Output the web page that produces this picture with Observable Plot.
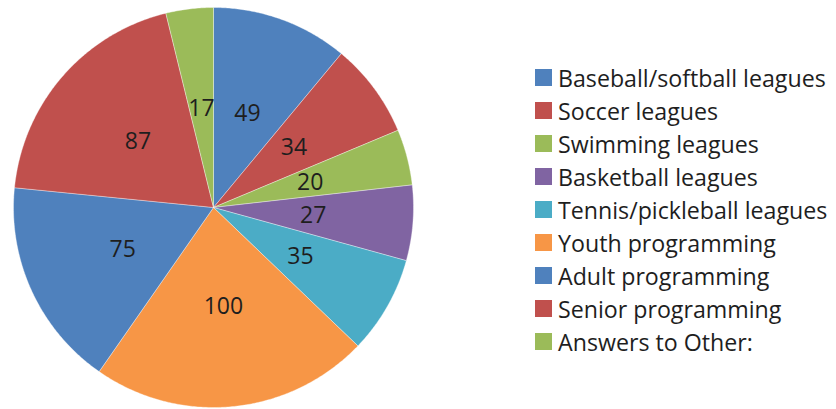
<!DOCTYPE html>
<html>
<head>
<meta charset="utf-8">
<script src="https://cdn.jsdelivr.net/npm/d3@7"></script>
<script src="https://cdn.jsdelivr.net/npm/@observablehq/plot@0.6"></script>
<style>
  html, body { margin: 0; padding: 0; background: #fff; }
  #wrap { position: relative; width: 836px; height: 409px; overflow: hidden; }
  #legend { position: absolute; left: 535px; top: 61px; font-family: "Open Sans", Lato, sans-serif; font-size: 23.2px; color: #1e1e1e; }
  .item { display: flex; align-items: center; height: 33px; white-space: nowrap; }
  .sw { width: 17px; height: 17px; margin-right: 6px; flex: none; }
</style>
</head>
<body>
<div id="wrap"><div id="chart"></div><div id="legend"></div></div>
<script>
const categories = ["Baseball/softball leagues", "Soccer leagues", "Swimming leagues", "Basketball leagues", "Tennis/pickleball leagues", "Youth programming", "Adult programming", "Senior programming", "Answers to Other:"];
const values = [49, 34, 20, 27, 35, 100, 75, 87, 17];
const colors = ["#4F81BD", "#C0504D", "#9BBB59", "#8064A2", "#4BACC6", "#F79646", "#4F81BD", "#C0504D", "#9BBB59"];

const total = d3.sum(values);
const polys = [];
const labels = [];
let acc = 0;
categories.forEach((c, i) => {
  const a0 = acc / total * 2 * Math.PI;
  acc += values[i];
  const a1 = acc / total * 2 * Math.PI;
  polys.push({cat: c, x: 0, y: 0});
  const n = Math.max(2, Math.ceil((a1 - a0) / (Math.PI / 360)));
  for (let k = 0; k <= n; k++) {
    const a = a0 + (a1 - a0) * k / n;
    polys.push({cat: c, x: Math.sin(a), y: Math.cos(a)});
  }
  polys.push({cat: c, x: 0, y: 0});
  const m = (a0 + a1) / 2;
  labels.push({cat: c, v: values[i], x: 0.5 * Math.sin(m), y: 0.5 * Math.cos(m)});
});

const plot = Plot.plot({
  width: 836,
  height: 409,
  marginLeft: 13,
  marginRight: 423,
  marginTop: 7,
  marginBottom: 2,
  x: {domain: [-1, 1], axis: null},
  y: {domain: [-1, 1], axis: null},
  color: {domain: categories, range: colors},
  style: {fontFamily: "'Open Sans', Lato, sans-serif", background: "#fff"},
  marks: [
    Plot.line(polys, {x: "x", y: "y", z: "cat", fill: "cat", stroke: "#ffffff", strokeWidth: 0.6, strokeOpacity: 0.6, curve: "linear"}),
    Plot.text(labels, {x: "x", y: "y", text: d => String(d.v), fontSize: 23, fill: "#1e1e1e"})
  ]
});
document.getElementById("chart").appendChild(plot);

const lg = document.getElementById("legend");
categories.forEach((c, i) => {
  const it = document.createElement("div");
  it.className = "item";
  const sw = document.createElement("span");
  sw.className = "sw";
  sw.style.background = colors[i];
  const t = document.createElement("span");
  t.textContent = c;
  it.appendChild(sw);
  it.appendChild(t);
  lg.appendChild(it);
});
</script>
</body>
</html>
